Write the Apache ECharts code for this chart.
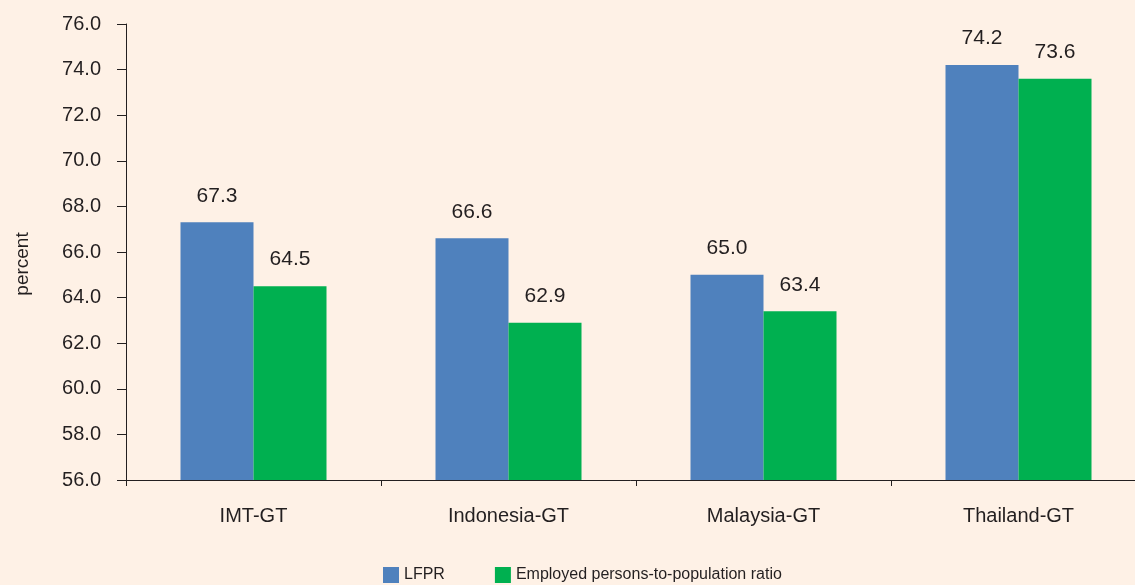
<!DOCTYPE html>
<html>
<head>
<meta charset="utf-8">
<script src="https://cdn.jsdelivr.net/npm/echarts@6/dist/echarts.min.js"></script>
<style>
  html, body { margin: 0; padding: 0; background: #fef1e6; }
  #chart { width: 1135px; height: 585px; }
</style>
</head>
<body>
<div id="chart"></div>
<script>
var categories = ['IMT-GT', 'Indonesia-GT', 'Malaysia-GT', 'Thailand-GT']
var lfpr = [67.3, 66.6, 65.0, 74.2]
var employed = [64.5, 62.9, 63.4, 73.6]
var yTicks = { min: 56, max: 76, interval: 2 }

var font = '"Liberation Sans Narrow", "Liberation Sans", sans-serif'
var chart = echarts.init(document.getElementById('chart'))
chart.setOption({
    backgroundColor: '#fef1e6',
    textStyle: { fontFamily: font },
    // plot runs past the right edge like the cropped original
    grid: { left: 126, width: 1020, top: 24, height: 456, containLabel: false, outerBoundsMode: 'none' },
    legend: {
        bottom: -3,
        left: 378,
        icon: 'rect',
        itemWidth: 16,
        itemHeight: 16,
        itemGap: 50,
        textStyle: { color: '#231f20', fontSize: 16, fontFamily: font },
        data: ['LFPR', 'Employed persons-to-population ratio']
    },
    xAxis: {
        type: 'category',
        data: categories,
        axisLine: { lineStyle: { color: '#231f20', width: 1 } },
        axisTick: { show: true, length: 6, lineStyle: { color: '#231f20' } },
        axisLabel: { color: '#231f20', fontSize: 20, margin: 26, fontFamily: font }
    },
    yAxis: {
        type: 'value',
        min: yTicks.min,
        max: yTicks.max,
        interval: yTicks.interval,
        name: 'percent',
        nameLocation: 'middle',
        nameGap: 94,
        nameTextStyle: { color: '#231f20', fontSize: 19, fontFamily: font, padding: [0, 24, 0, 0] },
        axisLine: { show: true, lineStyle: { color: '#231f20', width: 1 } },
        axisTick: { show: true, inside: false, length: 9, lineStyle: { color: '#231f20' } },
        axisLabel: {
            color: '#231f20', fontSize: 20, margin: 25, fontFamily: font,
            formatter: function (v) { return v.toFixed(1) }
        },
        splitLine: { show: false }
    },
    series: [
        {
            name: 'LFPR',
            type: 'bar',
            data: lfpr,
            barWidth: 73,
            barGap: '0%',
            itemStyle: { color: '#4f81bd' },
            label: {
                show: true, position: 'top', distance: 16, color: '#231f20', fontSize: 21, fontFamily: font,
                formatter: function (p) { return p.value.toFixed(1) }
            }
        },
        {
            name: 'Employed persons-to-population ratio',
            type: 'bar',
            data: employed,
            barWidth: 73,
            itemStyle: { color: '#00b050' },
            label: {
                show: true, position: 'top', distance: 16, color: '#231f20', fontSize: 21, fontFamily: font,
                formatter: function (p) { return p.value.toFixed(1) }
            }
        }
    ]
})
</script>
</body>
</html>
